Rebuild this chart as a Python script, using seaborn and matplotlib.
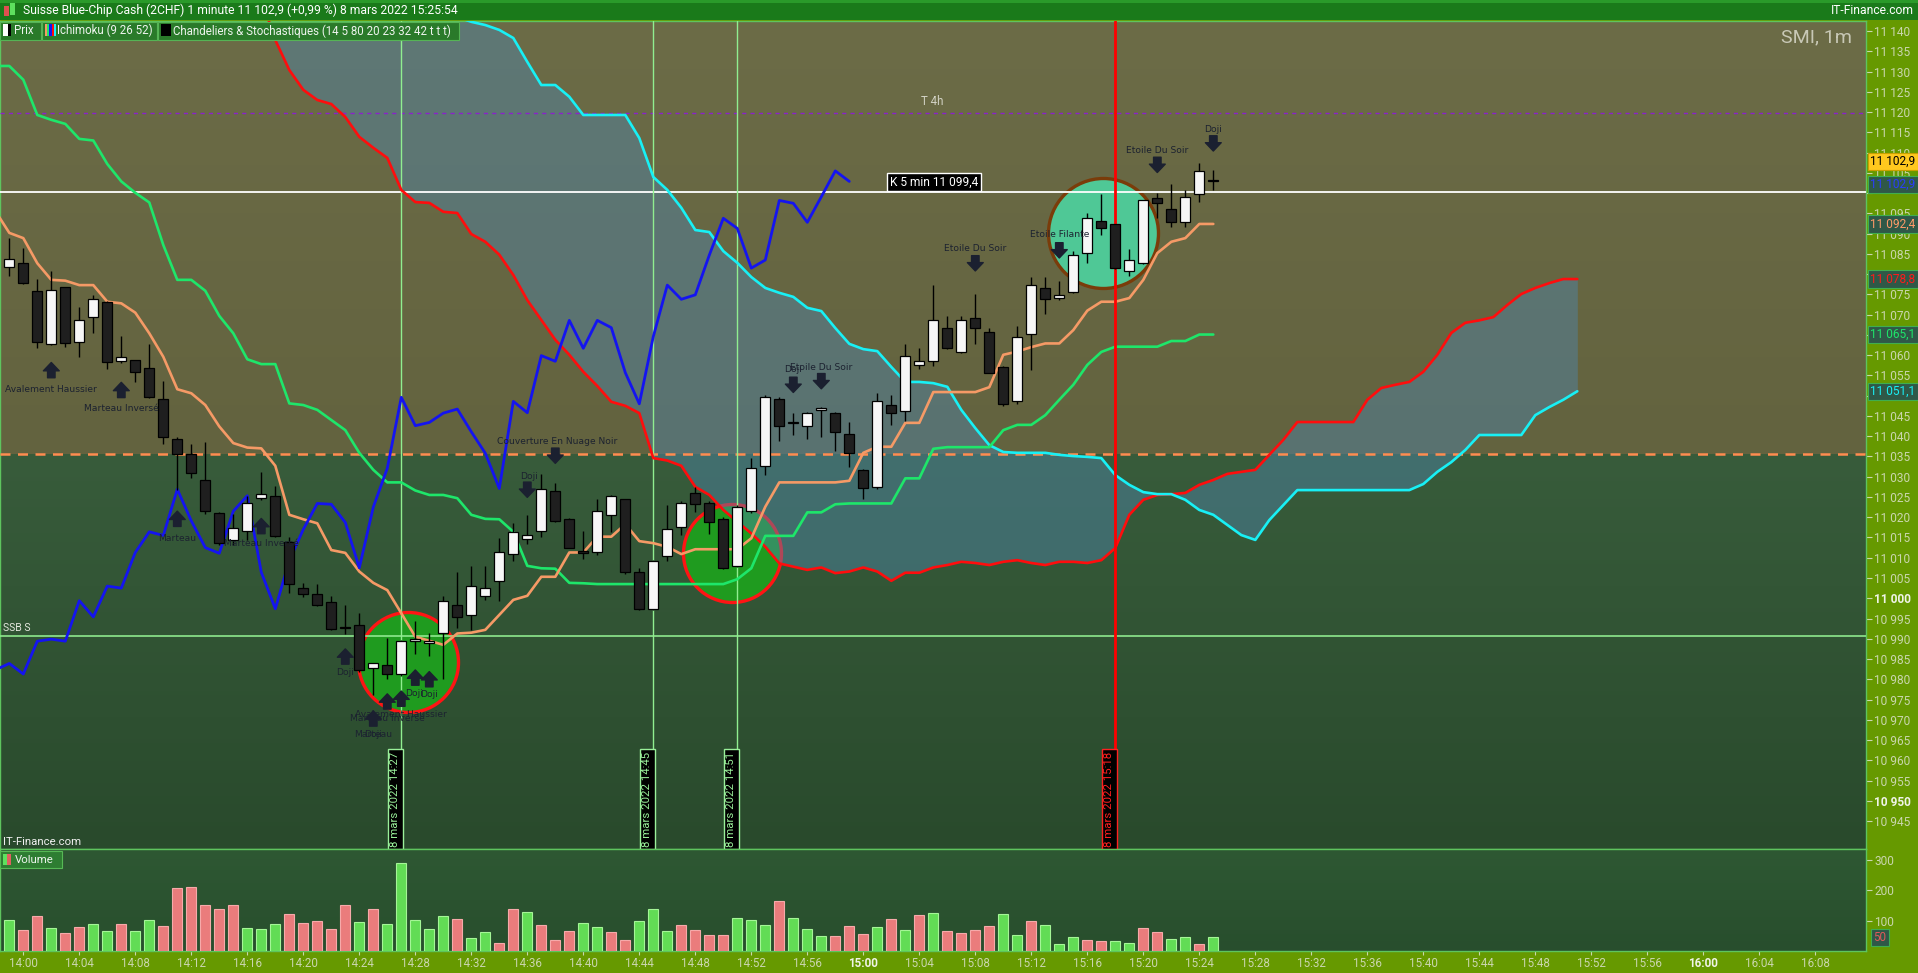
import numpy as np
import matplotlib
matplotlib.use("Agg")
import matplotlib.pyplot as plt
import matplotlib.transforms as mtransforms
from matplotlib.patches import Rectangle
from matplotlib.colors import LinearSegmentedColormap
import seaborn as sns

# ---------------- data (minutes after 14:00) ----------------
candle_minutes = list(range(-1, 86))
opens = [11081.7, 11082.7, 11075.9, 11062.7, 11076.8, 11063.2, 11069.5, 11073.2, 11058.6, 11058.8,
         11056.9, 11049.1, 11039.3, 11035.6, 11029.2, 11021.0, 11014.5, 11016.6, 11024.7, 11025.2,
         11013.9, 11002.5, 11001.0, 10999.0, 10992.8, 10993.4, 10982.7, 10983.4, 10981.2, 10989.5,
         10988.9, 10991.3, 10998.3, 10995.8, 11000.5, 11004.3, 11010.9, 11014.6, 11016.5, 11026.5,
         11019.6, 11011.7, 11011.3, 11020.5, 11024.5, 11006.4, 10997.3, 11010.4, 11017.6, 11025.9,
         11023.4, 11019.6, 11008.0, 11021.5, 11032.7, 11049.1, 11043.2, 11042.4, 11046.5, 11045.7,
         11040.6, 11031.7, 11027.4, 11047.7, 11046.2, 11057.5, 11058.6, 11066.6, 11060.7, 11069.1,
         11065.7, 11057.1, 11048.7, 11065.2, 11076.7, 11074.1, 11075.5, 11085.2, 11093.2, 11092.3,
         11080.8, 11082.7, 11098.8, 11096.2, 11092.8, 11099.7, 11103.0]
highs = [11089.0, 11086.4, 11078.7, 11080.8, 11076.8, 11071.8, 11074.9, 11073.4, 11064.8, 11058.8,
         11062.7, 11053.6, 11039.7, 11038.1, 11038.6, 11021.4, 11020.9, 11025.3, 11031.1, 11027.7,
         11015.0, 11003.8, 11003.5, 11000.6, 10998.3, 10996.3, 10983.9, 10990.1, 10989.8, 10994.4,
         10991.3, 11000.6, 11006.5, 11008.0, 11008.0, 11014.8, 11018.5, 11020.6, 11030.7, 11028.5,
         11019.8, 11016.6, 11024.5, 11025.6, 11024.6, 11007.4, 11009.5, 11023.0, 11024.0, 11027.4,
         11024.0, 11020.0, 11023.0, 11034.7, 11050.2, 11049.6, 11045.7, 11046.0, 11047.3, 11046.0,
         11043.4, 11032.0, 11050.6, 11050.2, 11062.7, 11061.7, 11077.3, 11069.7, 11069.7, 11075.0,
         11066.6, 11057.4, 11067.2, 11079.2, 11079.2, 11078.2, 11085.7, 11095.2, 11099.7, 11092.5,
         11086.2, 11098.4, 11100.0, 11102.2, 11100.8, 11107.4, 11105.7]
lows = [11079.6, 11077.6, 11061.7, 11062.5, 11062.1, 11059.6, 11065.6, 11056.7, 11058.1, 11053.5,
        11049.5, 11038.0, 11026.7, 11029.6, 11020.9, 11013.1, 11013.1, 11014.4, 11024.3, 11015.2,
        11001.3, 11000.3, 10998.1, 10992.2, 10991.2, 10981.8, 10976.1, 10980.0, 10980.8, 10986.3,
        10985.7, 10980.0, 10992.7, 10992.2, 10999.5, 10999.4, 11009.3, 11013.4, 11015.0, 11018.9,
        11012.3, 11009.7, 11010.7, 11016.4, 11005.9, 10997.1, 10997.0, 11009.3, 11015.6, 11021.4,
        11015.9, 11007.3, 11007.8, 11021.0, 11030.4, 11038.9, 11040.3, 11039.3, 11039.9, 11036.4,
        11032.5, 11024.4, 11026.9, 11042.8, 11043.8, 11056.5, 11057.4, 11061.5, 11060.5, 11062.7,
        11055.5, 11047.5, 11048.0, 11056.4, 11070.1, 11073.6, 11075.3, 11082.7, 11089.7, 11081.3,
        11079.6, 11082.5, 11093.8, 11091.6, 11091.7, 11097.7, 11100.8]
closes = [11083.7, 11077.9, 11063.3, 11076.2, 11063.0, 11068.7, 11073.8, 11058.4, 11059.6, 11055.9,
          11049.8, 11039.9, 11035.6, 11030.9, 11021.6, 11013.7, 11017.4, 11023.6, 11025.7, 11015.4,
          11003.5, 11001.1, 10998.3, 10992.4, 10992.6, 10982.3, 10983.9, 10981.3, 10989.4, 10989.9,
          10989.4, 10999.4, 10995.4, 11003.0, 11002.5, 11011.3, 11016.4, 11015.5, 11026.9, 11019.1,
          11012.5, 11011.1, 11021.5, 11025.3, 11006.4, 10997.4, 11009.3, 11017.0, 11023.4, 11023.2,
          11018.7, 11007.5, 11022.5, 11032.1, 11049.6, 11042.6, 11043.4, 11045.7, 11046.7, 11041.1,
          11035.8, 11027.1, 11048.6, 11045.8, 11059.9, 11058.5, 11068.6, 11061.7, 11068.6, 11066.8,
          11055.7, 11048.0, 11064.6, 11077.3, 11073.8, 11074.9, 11084.7, 11093.8, 11091.3, 11081.5,
          11083.5, 11098.2, 11097.5, 11092.8, 11099.1, 11105.5, 11102.9]
volumes = [101, 69, 114, 75, 58, 78, 88, 65, 88, 65, 101, 81, 207, 210, 150, 137, 150, 75, 71, 88,
           121, 91, 98, 71, 150, 95, 137, 88, 289, 101, 71, 114, 104, 42, 62, 25, 137, 127, 85, 35,
           65, 91, 78, 62, 35, 98, 140, 65, 85, 68, 52, 52, 108, 101, 85, 164, 108, 71, 48, 48,
           81, 55, 78, 104, 68, 118, 124, 65, 58, 68, 81, 121, 52, 98, 85, 22, 45, 35, 32, 32,
           25, 75, 62, 38, 45, 22, 45]
volume_dir = list("uddudduuduudddddduuuddddduduuuuuduudduddduudduuudddduuuduuudddudududdddu"
                  "uduuudduudduud")

line_minutes = list(range(-2, 86))
tenkan = [11095.6, 11090.2, 11088.9, 11082.7, 11078.6, 11078.4, 11077.3, 11077.3, 11073.2, 11072.8,
          11070.5, 11065.4, 11059.6, 11051.6, 11050.6, 11047.7, 11042.4, 11038.3, 11037.2, 11037.0,
          11032.7, 11020.6, 11019.5, 11018.5, 11011.9, 11011.2, 11006.6, 11003.8, 11002.0, 10996.3,
          10990.5, 10989.5, 10988.5, 10991.3, 10991.5, 10992.2, 10995.9, 10999.6, 11000.6, 11005.3,
          11005.3, 11011.3, 11011.3, 11015.2, 11015.2, 11018.3, 11014.1, 11013.6, 11012.7, 11010.9,
          11012.1, 11012.1, 11012.1, 11012.1, 11014.8, 11022.6, 11028.6, 11028.6, 11028.6, 11028.6,
          11028.6, 11029.0, 11035.9, 11037.4, 11037.4, 11043.3, 11043.3, 11050.9, 11050.9, 11050.9,
          11050.9, 11052.1, 11060.1, 11060.9, 11062.0, 11062.9, 11062.9, 11066.2, 11071.0, 11073.2,
          11073.2, 11074.1, 11078.6, 11085.2, 11088.0, 11088.9, 11092.4, 11092.4]
kijun = [11131.4, 11131.4, 11128.0, 11119.3, 11118.1, 11117.1, 11113.4, 11113.0, 11107.2, 11102.9,
         11100.1, 11097.7, 11087.2, 11078.6, 11078.6, 11075.9, 11069.7, 11065.4, 11059.0, 11057.8,
         11057.8, 11048.1, 11047.7, 11046.5, 11044.0, 11041.5, 11035.9, 11031.7, 11028.6, 11028.6,
         11026.6, 11025.5, 11025.5, 11024.7, 11020.6, 11019.6, 11019.5, 11016.4, 11008.0, 11007.4,
         11007.3, 11003.8, 11003.7, 11003.5, 11003.5, 11003.5, 11003.5, 11003.5, 11003.5, 11003.5,
         11003.5, 11003.5, 11003.5, 11004.7, 11007.4, 11015.4, 11015.4, 11015.4, 11021.2, 11021.2,
         11023.2, 11023.4, 11023.4, 11023.4, 11023.4, 11029.6, 11029.6, 11036.9, 11037.3, 11037.3,
         11037.3, 11037.3, 11041.5, 11042.8, 11042.8, 11045.2, 11049.0, 11052.7, 11057.6, 11060.8,
         11062.1, 11062.1, 11062.1, 11062.1, 11063.5, 11063.5, 11065.1, 11065.1]

chikou_minutes = list(range(-2, 60))
chikou = [10982.3, 10983.9, 10981.3, 10989.4, 10989.9, 10989.4, 10999.4, 10995.4, 11003.0, 11002.5,
          11011.3, 11016.4, 11015.5, 11026.9, 11019.1, 11012.5, 11011.1, 11021.5, 11025.3, 11006.4,
          10997.4, 11009.3, 11017.0, 11023.4, 11023.2, 11018.7, 11007.5, 11022.5, 11032.1, 11049.6,
          11042.6, 11043.4, 11045.7, 11046.7, 11041.1, 11035.8, 11027.1, 11048.6, 11045.8, 11059.9,
          11058.5, 11068.6, 11061.7, 11068.6, 11066.8, 11055.7, 11048.0, 11064.6, 11077.3, 11073.8,
          11074.9, 11084.7, 11093.8, 11091.3, 11081.5, 11083.5, 11098.2, 11097.5, 11092.8, 11099.1,
          11105.5, 11102.9]

cloud_minutes = list(range(16, 112))
senkou_b = [11160.0, 11148.0, 11137.8, 11130.4, 11125.5, 11123.0, 11122.0, 11118.8, 11113.9, 11111.2,
            11108.7, 11100.8, 11097.8, 11097.6, 11095.4, 11095.1, 11089.9, 11088.0, 11084.8, 11079.8,
            11073.6, 11068.7, 11063.8, 11060.1, 11055.9, 11052.4, 11048.5, 11047.5, 11045.7, 11034.6,
            11034.0, 11032.7, 11027.5, 11025.5, 11021.8, 11018.9, 11016.0, 11012.7, 11008.6, 11007.8,
            11007.0, 11007.6, 11006.2, 11006.6, 11007.6, 11006.6, 11004.3, 11006.3, 11006.3, 11007.6,
            11008.2, 11009.0, 11008.7, 11008.2, 11009.0, 11009.4, 11008.7, 11008.2, 11009.0, 11009.0,
            11008.7, 11009.4, 11012.4, 11020.6, 11024.3, 11025.5, 11025.7, 11026.0, 11028.0, 11029.2,
            11030.7, 11031.2, 11031.7, 11035.4, 11039.1, 11043.5, 11043.5, 11043.5, 11043.5, 11043.5,
            11049.0, 11051.9, 11052.7, 11053.4, 11055.9, 11060.1, 11065.5, 11068.0, 11068.6, 11069.4,
            11072.4, 11075.1, 11076.6, 11077.8, 11078.8, 11078.8]
senkou_a = [11200.0, 11198.0, 11195.0, 11192.0, 11189.0, 11186.0, 11183.0, 11180.0, 11176.0, 11172.0,
            11168.0, 11163.0, 11158.0, 11153.0, 11148.0, 11143.5, 11142.3, 11141.5, 11140.3, 11138.3,
            11132.4, 11126.7, 11126.7, 11123.8, 11119.3, 11119.3, 11119.3, 11119.3, 11113.6, 11104.0,
            11100.8, 11096.4, 11090.9, 11090.4, 11085.7, 11082.8, 11079.3, 11076.6, 11075.4, 11074.4,
            11071.7, 11070.9, 11066.7, 11062.8, 11061.5, 11061.0, 11057.1, 11053.4, 11053.4, 11053.1,
            11052.2, 11046.5, 11042.0, 11037.8, 11036.1, 11035.9, 11035.9, 11035.9, 11035.4, 11035.1,
            11034.9, 11034.6, 11030.4, 11028.0, 11026.2, 11025.7, 11025.7, 11024.3, 11021.8, 11020.6,
            11018.1, 11015.6, 11014.4, 11019.3, 11023.0, 11026.7, 11026.7, 11026.7, 11026.7, 11026.7,
            11026.7, 11026.7, 11026.7, 11026.7, 11028.2, 11031.2, 11033.6, 11036.6, 11040.3, 11040.3,
            11040.3, 11040.3, 11045.2, 11047.2, 11049.0, 11051.1]

time_ticks = list(range(0, 129, 4))
time_labels = ["14:00", "14:04", "14:08", "14:12", "14:16", "14:20", "14:24", "14:28", "14:32",
               "14:36", "14:40", "14:44", "14:48", "14:52", "14:56", "15:00", "15:04", "15:08",
               "15:12", "15:16", "15:20", "15:24", "15:28", "15:32", "15:36", "15:40", "15:44",
               "15:48", "15:52", "15:56", "16:00", "16:04", "16:08"]

pattern_texts = [(2, 11051.6, "Avalement Haussier"), (7, 11046.8, "Marteau Inversé"),
                 (11, 11014.7, "Marteau"), (17, 11013.6, "Marteau Inversé"), (23, 10981.7, "Doji"),
                 (27.9, 10976.5, "Doji"), (29, 10976.2, "Doji"), (27, 10971.2, "Avalement Haussier"),
                 (26, 10970.3, "Marteau Inversé"), (25, 10966.3, "Marteau"), (25, 10966.3, "Doji"),
                 (36.1, 11030.0, "Doji"), (38.1, 11038.7, "Couverture En Nuage Noir"),
                 (55, 11056.5, "Doji"), (57, 11056.9, "Etoile Du Soir"), (68, 11086.3, "Etoile Du Soir"),
                 (74, 11089.8, "Etoile Filante"), (81, 11110.5, "Etoile Du Soir"), (85, 11115.8, "Doji")]
up_arrows = [(2, 11058.2), (7, 11053.3), (11, 11021.5), (17, 11019.7), (23, 10987.5), (25, 10972.2),
             (26, 10976.4), (27, 10977.1), (28, 10982.3), (29, 10981.9)]
down_arrows = [(36, 11024.9), (38, 11033.3), (55, 11050.8), (57, 11051.7), (68, 11080.8),
               (74, 11084.0), (81, 11105.1), (85, 11110.4)]

signal_circles = [(27.5, 10984.3, "#1f9b1f", "#ff1414"), (50.6, 11011.1, "#1f9b1f", "#ff1414"),
                  (77.1, 11090.2, "#4fc896", "#7a3c0a")]
signal_radius_px = [50, 49, 55]
date_marks = [(27, "8 mars 2022 14:27", "#9af09a"), (45, "8 mars 2022 14:45", "#9af09a"),
              (51, "8 mars 2022 14:51", "#9af09a"), (78, "8 mars 2022 15:18", "#ff2020")]

level_dash = 11035.5
level_ssb = 10990.6
level_k5 = 11100.3
level_t4h = 11119.8
last_price = 11102.9

# ---------------- figure ----------------
sns.set_theme(style="dark")
plt.rcParams['font.family'] = ['Roboto', 'DejaVu Sans']

W, H = 1918, 973
PLOT_R, TOP, SPLIT, BOT = 1866, 21, 849, 951
fig = plt.figure(figsize=(W / 100, H / 100), dpi=100)
fig.patch.set_facecolor('#669900')
ax = fig.add_axes([0, 1 - SPLIT / H, PLOT_R / W, (SPLIT - TOP) / H])
axv = fig.add_axes([0, 1 - BOT / H, PLOT_R / W, (BOT - SPLIT) / H])

XMIN, XMAX = -1.664, 131.62
YMIN, YMAX = 10938.1, 11142.5

# backgrounds
grad = np.linspace(0, 1, 256).reshape(-1, 1)
ax.set_facecolor('#6a6a45')
ax.imshow(grad, extent=[XMIN, XMAX, YMIN, level_dash], origin='lower', aspect='auto',
          cmap=LinearSegmentedColormap.from_list('low', ['#294a2c', '#385c3b']), zorder=0)
ax.imshow(grad, extent=[XMIN, XMAX, level_dash, YMAX], origin='lower', aspect='auto',
          cmap=LinearSegmentedColormap.from_list('up', ['#63633f', '#6c6c47']), zorder=0)
axv.imshow(grad, extent=[XMIN, XMAX, 0, 336], origin='lower', aspect='auto',
           cmap=LinearSegmentedColormap.from_list('vol', ['#284e2d', '#2e5833']), zorder=0)

# signal circles
for (cx, cy, fc, ec), r in zip(signal_circles, signal_radius_px):
    ax.scatter([cx], [cy], s=(2 * r * 0.72) ** 2, facecolor=fc, edgecolor=ec, linewidth=2.4, zorder=1.5)

# cloud
ax.fill_between(cloud_minutes, senkou_a, senkou_b, color='#4f86ad', alpha=0.45, lw=0, zorder=2)

# horizontal levels
ax.axhline(level_dash, color='#ff8c50', lw=1.8, ls=(0, (4, 3)), zorder=3)
ax.axhline(level_ssb, color='#8ee88e', lw=1.2, zorder=3)
ax.axhline(level_k5, color='white', lw=1.3, zorder=3)
ax.axhline(level_t4h, color='#8a22cc', lw=1.0, ls=(0, (3, 3)), zorder=3)
for m in [27, 45, 51]:
    ax.axvline(m, color='#90ee90', lw=1.0, zorder=3)

# ichimoku lines (seaborn)
sns.lineplot(x=cloud_minutes, y=senkou_b, ax=ax, color='#ff0d0d', linewidth=1.9, zorder=4)
sns.lineplot(x=cloud_minutes, y=senkou_a, ax=ax, color='#18f0f5', linewidth=1.9, zorder=4)
sns.lineplot(x=line_minutes, y=kijun, ax=ax, color='#1ee66a', linewidth=1.9, zorder=4)
sns.lineplot(x=line_minutes, y=tenkan, ax=ax, color='#f59a66', linewidth=1.9, zorder=4)
sns.lineplot(x=chikou_minutes, y=chikou, ax=ax, color='#1414f0', linewidth=2.0, zorder=4)
ax.axvline(78, color='#ff0000', lw=2.0, zorder=4.5)

# candles
o = np.array(opens); c = np.array(closes)
up = c >= o
body_lo = np.minimum(o, c)
body_h = np.maximum(np.abs(c - o), 0.35)
ax.vlines(candle_minutes, lows, highs, color='black', lw=1.0, zorder=5.5)
ax.bar(candle_minutes, body_h, bottom=body_lo, width=0.72,
       color=np.where(up, '#f7f7f7', '#1f1f1f'), edgecolor='black', linewidth=0.9, zorder=6)

# pattern labels and arrows
for x, y, t in pattern_texts:
    ax.text(x, y, t, ha='center', va='center', fontsize=6.6, color='#1c2230',
            family=['DejaVu Sans'], zorder=7)
astyle = 'simple,head_length=0.5,head_width=0.95,tail_width=0.45'
for x, y in up_arrows:
    ax.annotate('', xy=(x, y), xytext=(0, -11), textcoords='offset points',
                arrowprops=dict(arrowstyle=astyle, fc='#1b2030', ec='#1b2030', shrinkA=0, shrinkB=0), zorder=7)
for x, y in down_arrows:
    ax.annotate('', xy=(x, y), xytext=(0, 11), textcoords='offset points',
                arrowprops=dict(arrowstyle=astyle, fc='#1b2030', ec='#1b2030', shrinkA=0, shrinkB=0), zorder=7)

# level labels
ax.text(61.9, level_k5 + 0.9, "K 5 min 11 099,4", ha='left', va='bottom', color='white', fontsize=8.6,
        bbox=dict(boxstyle='square,pad=0.22', fc='black', ec='white', lw=1), zorder=8)
ax.text(64.9, level_t4h + 1.3, "T 4h", ha='center', va='bottom', color='#d2d2c4', fontsize=8.3, zorder=8)

# vertical date labels
trans = mtransforms.blended_transform_factory(ax.transData, ax.transAxes)
for m, txt, col in date_marks:
    ax.text(m - 0.06, 0.003, txt, rotation=90, transform=trans, ha='right', va='bottom', color=col,
            fontsize=8.2, bbox=dict(boxstyle='square,pad=0.2', fc='black', ec=col, lw=1), zorder=8)

ax.text(0.9925, 1 - 16 / (SPLIT - TOP), "SMI, 1m", transform=ax.transAxes, ha='right', va='center',
        fontsize=14, color='#c8c8b6', zorder=8)

# volume bars
vol_col = ['#62dc55' if d == 'u' else '#ea7c7c' for d in volume_dir]
vol_edge = ['#a5f597' if d == 'u' else '#f6aaaa' for d in volume_dir]
axv.bar(candle_minutes, volumes, width=0.74, color=vol_col, edgecolor=vol_edge, linewidth=0.8, zorder=3)

# axes limits / ticks
for a in (ax, axv):
    a.set_xlim(XMIN, XMAX)
    a.set_xlabel(''); a.set_ylabel('')
    for s in a.spines.values():
        s.set_color('#5ec45e'); s.set_linewidth(1.0)
ax.set_ylim(YMIN, YMAX)
axv.set_ylim(0, 336)

# price ticks; values hidden behind the value boxes on the axis get no label
price_ticks = np.arange(10945, 11141, 5)
covered = {11100, 11080, 11065, 11050}
ax.yaxis.tick_right()
ax.set_yticks(price_ticks)
ax.set_yticklabels(["" if v in covered else f"{int(v):,}".replace(",", " ") for v in price_ticks])
ax.tick_params(axis='y', right=True, left=False, labelright=True, labelleft=False, colors='#cad6ae',
               labelsize=8.6, length=4, width=0.8, pad=2, direction='out')
for lab, v in zip(ax.get_yticklabels(), price_ticks):
    if v in (11000, 10950):
        lab.set_fontweight('bold'); lab.set_color('#f0f4e8')
ax.tick_params(axis='x', bottom=False, labelbottom=False)

axv.yaxis.tick_right()
axv.set_yticks([100, 200, 300])
axv.set_yticklabels(["100", "200", "300"])
axv.tick_params(axis='y', right=True, left=False, labelright=True, labelleft=False, colors='#cad6ae',
                labelsize=8.6, length=4, width=0.8, pad=2, direction='out')
axv.set_xticks(time_ticks)
axv.set_xticklabels(time_labels)
axv.tick_params(axis='x', bottom=True, labelbottom=True, colors='#cad6ae', labelsize=8.4, length=3,
                width=0.8, pad=1.5, direction='out')
for lab in axv.get_xticklabels():
    if lab.get_text() in ("15:00", "16:00"):
        lab.set_fontweight('bold'); lab.set_color('#f0f4e8')

# value boxes on the price axis
vb = mtransforms.blended_transform_factory(ax.transAxes, ax.transData)
ax.text(1.0145, last_price + 4.9, "11 102,9", transform=vb, ha='center', va='center', fontsize=8.6,
        color='black', bbox=dict(boxstyle='square,pad=0.18', fc='#ffc81e', ec='#c8a000', lw=0.8), zorder=9)
for val, txt, col in [(last_price - 0.8, "11 102,9", '#2a3cff'), (11092.4, "11 092,4", '#ff9a68'),
                      (11078.8, "11 078,8", '#ff1a1a'), (11065.1, "11 065,1", '#1ee66a'),
                      (11051.1, "11 051,1", '#18f0f5')]:
    ax.text(1.0145, val, txt, transform=vb, ha='center', va='center', fontsize=8.6, color=col,
            bbox=dict(boxstyle='square,pad=0.18', fc='#2f5848', ec='#3fae4f', lw=0.8), zorder=9)
vbv = mtransforms.blended_transform_factory(axv.transAxes, axv.transData)
axv.text(1.0075, 45, "50", transform=vbv, ha='center', va='center', fontsize=8.4, color='#e05a5a',
         bbox=dict(boxstyle='square,pad=0.2', fc='#2f5848', ec='#3fae4f', lw=0.8), zorder=9)

# ---------------- overlay (title bar, legends) ----------------
ov = fig.add_axes([0, 0, 1, 1], zorder=20)
ov.set_xlim(0, W); ov.set_ylim(H, 0); ov.axis('off'); ov.patch.set_alpha(0)
ov.add_patch(Rectangle((0, 0), W, 20, fc='#1a7a1a', ec='none'))
ov.add_patch(Rectangle((0, 0), W, 3, fc='#2a9a2a', ec='none'))
ov.add_patch(Rectangle((4, 6), 5, 10, fc='#e05050', ec='none'))
ov.add_patch(Rectangle((10, 3), 5, 12, fc='#5ee05e', ec='none'))
ov.text(23, 10.5, "Suisse Blue-Chip Cash (2CHF) 1 minute 11 102,9 (+0,99 %) 8 mars 2022 15:25:54",
        ha='left', va='center', color='white', fontsize=8.7)
ov.text(1914, 10.5, "IT-Finance.com", ha='right', va='center', color='white', fontsize=8.7)

legend_boxes = [(0, 41, "Prix", 14), (42, 115, "Ichimoku (9 26 52)", 57),
                (158, 301, "Chandeliers & Stochastiques (14 5 80 20 23 32 42 t t t)", 173)]
for x0, w, txt, tx in legend_boxes:
    ov.add_patch(Rectangle((x0, 21.5), w, 18, fc='#2a7a2a', ec='#55b455', lw=0.8))
    ov.text(tx, 30.8, txt, ha='left', va='center', color='#eef4ee', fontsize=8.3)
ov.add_patch(Rectangle((3, 24), 5, 12, fc='white', ec='none'))
ov.add_patch(Rectangle((8, 24), 3, 12, fc='black', ec='none'))
for i, col in enumerate(['#f59a66', '#1ee66a', '#1414f0', '#ff0d0d', '#18f0f5']):
    ov.add_patch(Rectangle((45 + 2.2 * i, 24), 2.2, 12, fc=col, ec='none'))
ov.add_patch(Rectangle((161, 24), 10, 12, fc='black', ec='none'))

ov.text(3, 628, "SSB S", ha='left', va='center', color='#e2e6dc', fontsize=7.6)
ov.text(3, 842, "IT-Finance.com", ha='left', va='center', color='#f0f0f0', fontsize=8.2)
ov.add_patch(Rectangle((0, 851), 62, 17, fc='#2e7d32', ec='#56b856', lw=0.8))
ov.add_patch(Rectangle((3, 854), 4, 11, fc='#5ee05e', ec='none'))
ov.add_patch(Rectangle((7, 854), 4, 11, fc='#e06060', ec='none'))
ov.text(15, 860, "Volume", ha='left', va='center', color='#eef4ee', fontsize=8.2)

fig.savefig("out.png", dpi=100, facecolor=fig.get_facecolor())
